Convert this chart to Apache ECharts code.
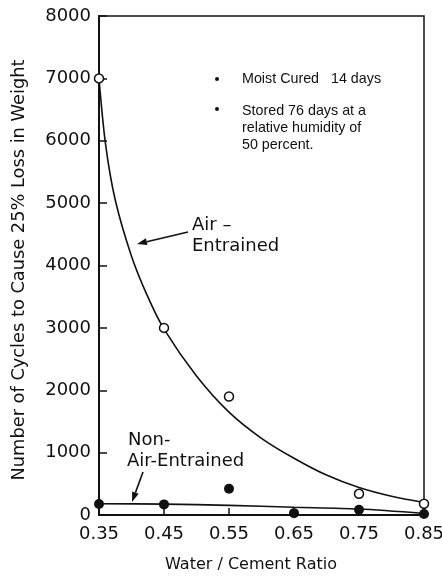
<!DOCTYPE html>
<html><head><meta charset="utf-8">
<script src="https://cdn.jsdelivr.net/npm/echarts@6/dist/echarts.min.js"></script>
<style>html,body{margin:0;padding:0;background:#fff;overflow:hidden}#c{width:442px;height:576px}</style>
</head><body><div id="c"></div>
<script>
var xTicks = [0.35, 0.45, 0.55, 0.65, 0.75, 0.85];
var yTicks = [0, 1000, 2000, 3000, 4000, 5000, 6000, 7000, 8000];
// Air-entrained measured points (open circles)
var airX = [0.35, 0.45, 0.55, 0.75, 0.85];
var airY = [7000, 3000, 1900, 340, 180];
// Air-entrained fitted curve
var airCurveX = [0.35, 0.36, 0.375, 0.40, 0.425, 0.45, 0.50, 0.55, 0.60, 0.65, 0.70, 0.75, 0.80, 0.85];
var airCurveY = [7000, 5950, 5050, 4150, 3500, 2980, 2230, 1650, 1230, 910, 640, 440, 300, 200];
// Non-air-entrained measured points (filled dots)
var nonX = [0.35, 0.45, 0.55, 0.65, 0.75, 0.85];
var nonY = [175, 170, 420, 30, 85, 15];
// Non-air-entrained fitted line
var nonLineX = [0.35, 0.45, 0.55, 0.65, 0.75, 0.85];
var nonLineY = [180, 175, 155, 125, 95, 25];

function zip(a, b) { return a.map(function (v, i) { return [v, b[i]]; }); }
function arrow(x1, y1, x2, y2) {
  var dx = x2 - x1, dy = y2 - y1, L = Math.sqrt(dx * dx + dy * dy);
  var ux = dx / L, uy = dy / L, px = uy, py = -ux;
  var bx = x2 - 10 * ux, by = y2 - 10 * uy;
  return [
    { type: 'line', shape: { x1: x1, y1: y1, x2: bx, y2: by }, style: { stroke: '#111', lineWidth: 1.6 } },
    { type: 'polygon', shape: { points: [[x2, y2], [bx + 3.5 * px, by + 3.5 * py], [bx - 3.5 * px, by - 3.5 * py]] }, style: { fill: '#111' } }
  ];
}
var F = 'DejaVu Sans';
var chart = echarts.init(document.getElementById('c'), null, { renderer: 'canvas', width: 442, height: 576 });
var graphics = [
  { type: 'text', x: 19, y: 270, rotation: Math.PI / 2, style: { text: 'Number of Cycles to Cause 25% Loss in Weight', font: '17.8px "DejaVu Sans"', fill: '#111', textAlign: 'center', textVerticalAlign: 'middle' } },
  { type: 'text', x: 251, y: 565, style: { text: 'Water / Cement Ratio', font: '16px "DejaVu Sans"', fill: '#111', textAlign: 'center', textVerticalAlign: 'middle' } },
  { type: 'circle', shape: { cx: 217, cy: 79, r: 2 }, style: { fill: '#111' } },
  { type: 'circle', shape: { cx: 217, cy: 109, r: 2 }, style: { fill: '#111' } },
  { type: 'text', x: 242, y: 79, style: { text: 'Moist Cured   14 days', font: '14.3px "Liberation Sans"', fill: '#111', textVerticalAlign: 'middle' } },
  { type: 'text', x: 242, y: 111, style: { text: 'Stored 76 days at a', font: '14.3px "Liberation Sans"', fill: '#111', textVerticalAlign: 'middle' } },
  { type: 'text', x: 242, y: 128, style: { text: 'relative humidity of', font: '14.3px "Liberation Sans"', fill: '#111', textVerticalAlign: 'middle' } },
  { type: 'text', x: 242, y: 145, style: { text: '50 percent.', font: '14.3px "Liberation Sans"', fill: '#111', textVerticalAlign: 'middle' } },
  { type: 'text', x: 192, y: 225, style: { text: 'Air –', font: '18px "DejaVu Sans"', fill: '#111', textVerticalAlign: 'middle' } },
  { type: 'text', x: 192, y: 246, style: { text: 'Entrained', font: '18px "DejaVu Sans"', fill: '#111', textVerticalAlign: 'middle' } },
  { type: 'text', x: 128, y: 440, style: { text: 'Non-', font: '18px "DejaVu Sans"', fill: '#111', textVerticalAlign: 'middle' } },
  { type: 'text', x: 127, y: 461, style: { text: 'Air-Entrained', font: '18px "DejaVu Sans"', fill: '#111', textVerticalAlign: 'middle' } }
].concat(arrow(188, 232, 137, 244)).concat(arrow(143, 472, 132, 502));

chart.setOption({
  animation: false,
  backgroundColor: '#fff',
  grid: { left: 99, right: 18, top: 16, bottom: 61, show: true, borderColor: '#111', borderWidth: 1.5, containLabel: false, outerBoundsMode: 'none' },
  xAxis: {
    type: 'value', min: 0.35, max: 0.85,
    axisLine: { show: true, lineStyle: { color: '#111', width: 2 } },
    axisTick: { show: true, inside: true, length: 7, customValues: xTicks, lineStyle: { color: '#111', width: 1.5 } },
    axisLabel: { customValues: xTicks, margin: 10, fontFamily: F, fontSize: 18, color: '#111', formatter: function (v) { return v.toFixed(2); } },
    splitLine: { show: false }
  },
  yAxis: {
    type: 'value', min: 0, max: 8000, interval: 1000,
    axisLine: { show: true, lineStyle: { color: '#111', width: 2 } },
    axisTick: { show: true, inside: true, length: 8, customValues: yTicks, lineStyle: { color: '#111', width: 1.5 } },
    axisLabel: { customValues: yTicks, margin: 8, fontFamily: F, fontSize: 18, color: '#111', formatter: function (v) { return String(v); } },
    splitLine: { show: false }
  },
  series: [
    { type: 'line', data: zip(airCurveX, airCurveY), smooth: 0.3, showSymbol: false, symbol: 'none', lineStyle: { color: '#111', width: 1.6 }, z: 2 },
    { type: 'line', data: zip(nonLineX, nonLineY), smooth: 0.3, showSymbol: false, symbol: 'none', lineStyle: { color: '#111', width: 1.6 }, z: 2 },
    { type: 'scatter', data: zip(airX, airY), symbol: 'circle', symbolSize: 9, itemStyle: { color: '#fff', borderColor: '#111', borderWidth: 1.5, opacity: 1 }, z: 3 },
    { type: 'scatter', data: zip(nonX, nonY), symbol: 'circle', symbolSize: 10, itemStyle: { color: '#111', opacity: 1 }, z: 3 }
  ],
  graphic: graphics
});
</script></body></html>
